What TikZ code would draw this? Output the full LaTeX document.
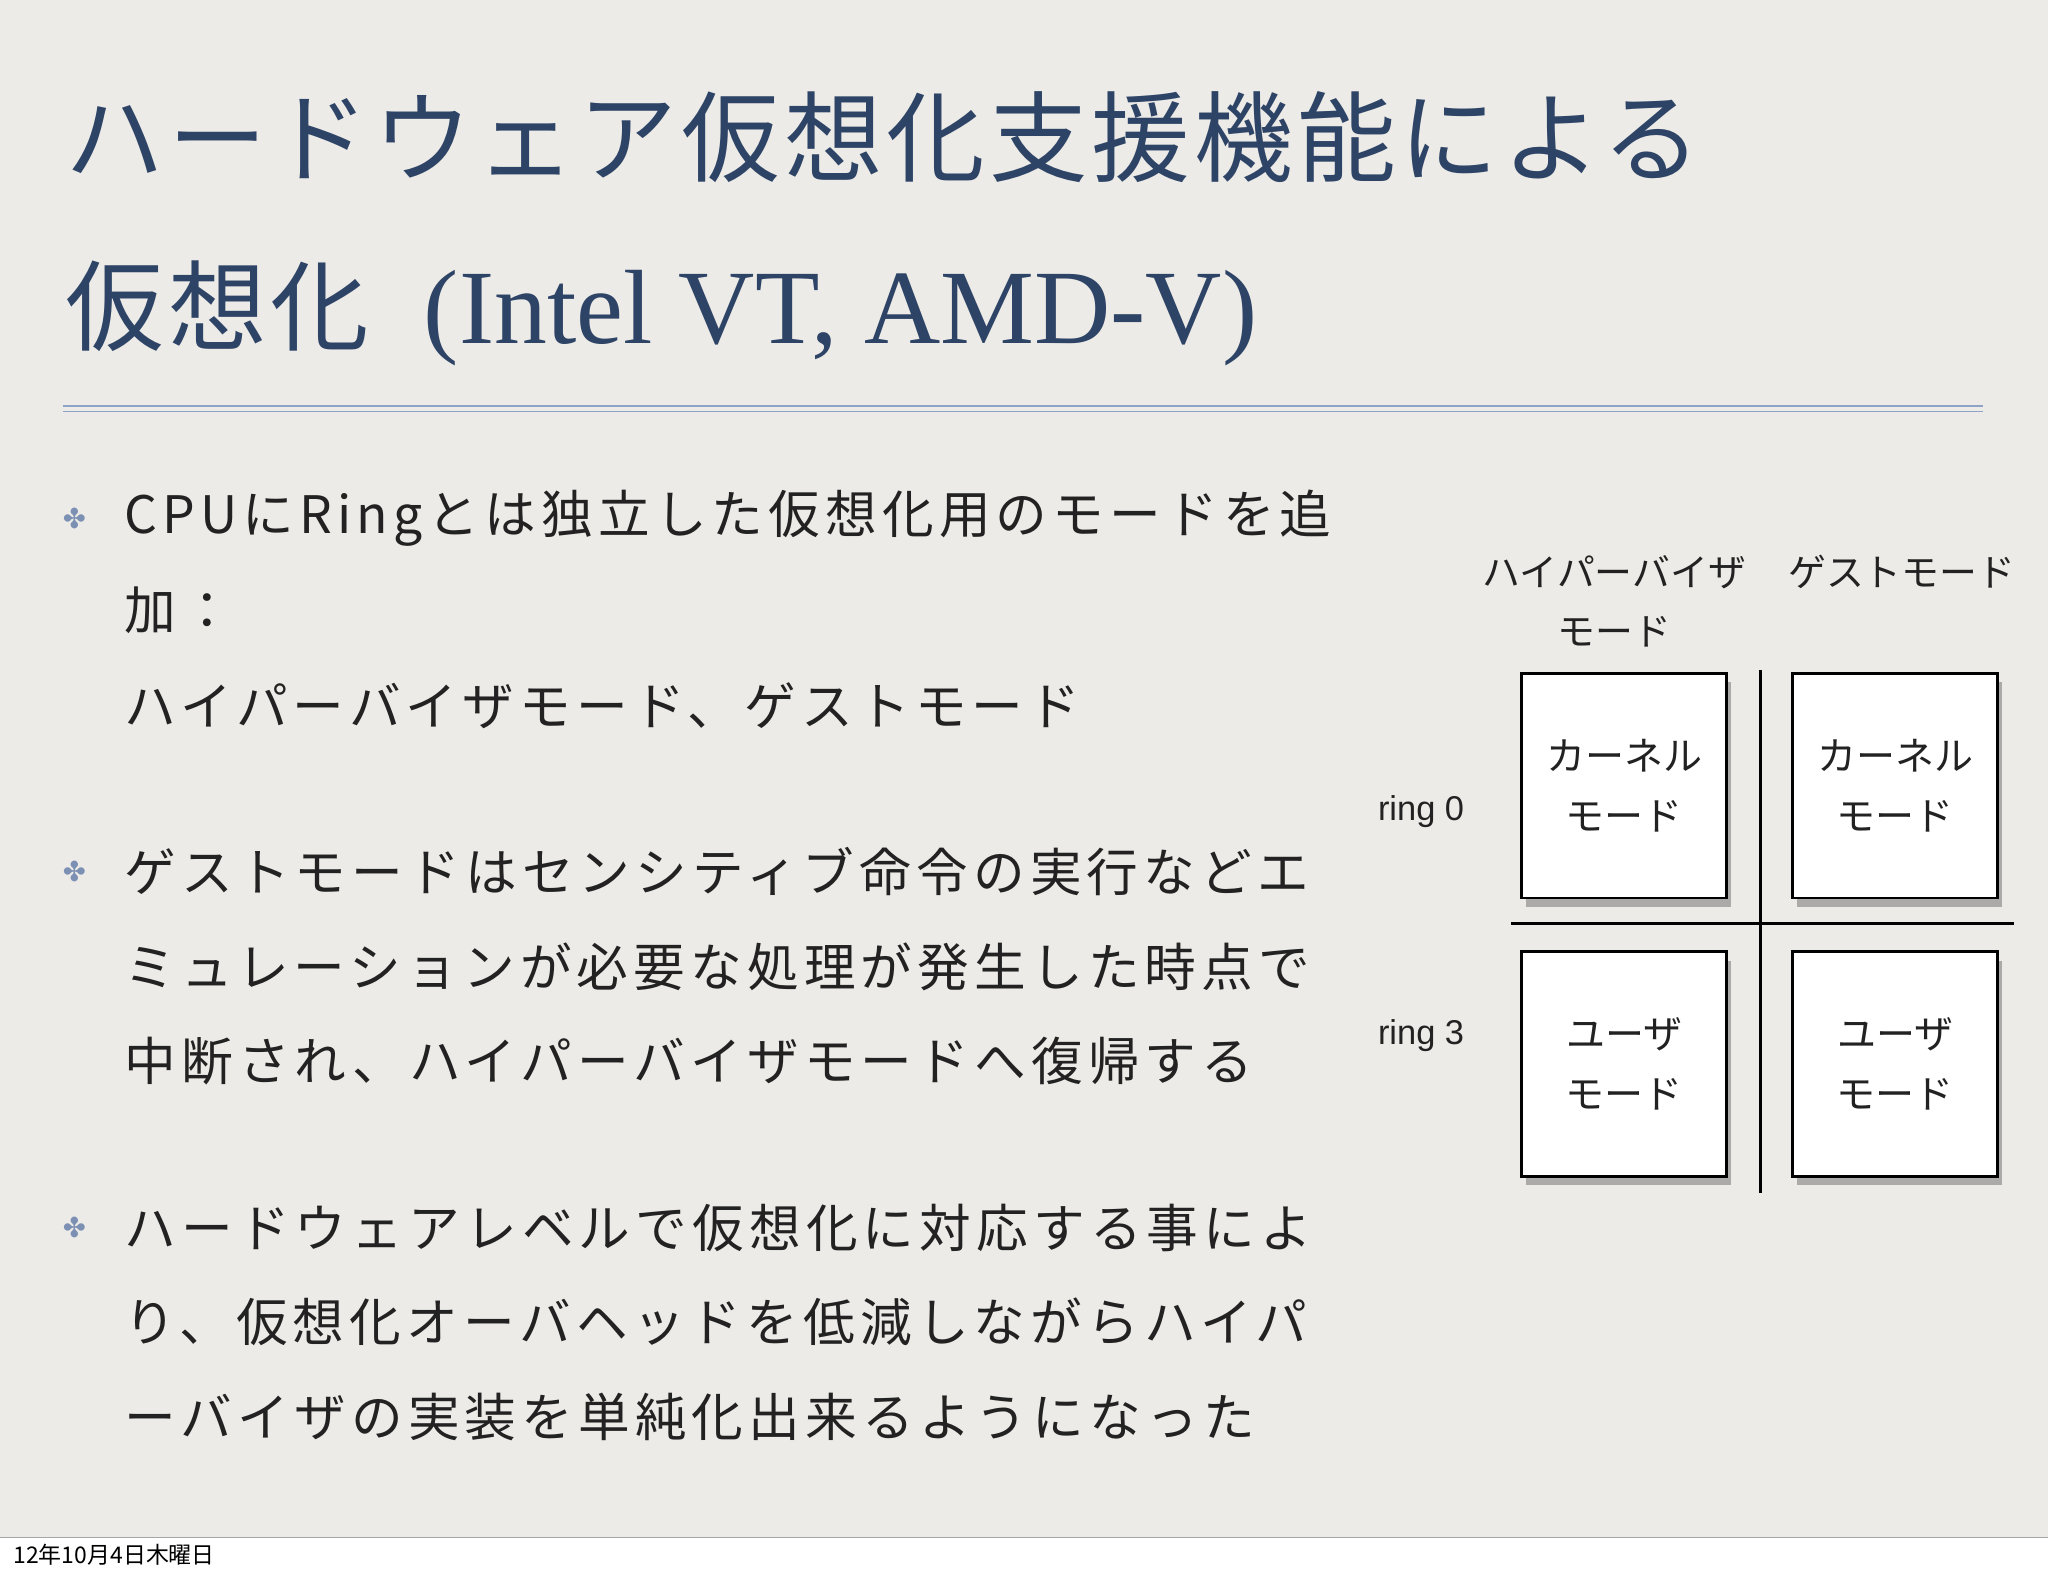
\documentclass[tikz,border=0pt]{standalone}
\usepackage{fontspec}
\setmainfont{Liberation Serif}
\newfontfamily\jp{Noto Sans CJK JP}
\newfontfamily\jpw[LetterSpace=10]{Noto Sans CJK JP}
\newfontfamily\jpt[LetterSpace=4]{Noto Sans CJK JP}
\newfontfamily\sym{DejaVu Sans}
\newfontfamily\lsans{Liberation Sans}
\usetikzlibrary{shadows}
\definecolor{paper}{HTML}{EDEBE7}
\definecolor{navy}{HTML}{2E4466}
\definecolor{ink}{HTML}{222222}
\definecolor{rule}{HTML}{8FA3C8}
\begin{document}
\begin{tikzpicture}[x=0.02cm,y=-0.02cm,
  body/.style={anchor=west,inner sep=0,text=ink,font=\jpw\fontsize{22.5}{26}\selectfont},
  bul/.style={anchor=center,inner sep=0,text=rule!80!navy,font=\sym\fontsize{12}{14}\selectfont},
  lab/.style={inner sep=0,text=ink,font=\jp\fontsize{16.5}{19}\selectfont},
  modebox/.style={draw=black,line width=1.2pt,fill=white,minimum width=157*0.02cm,minimum height=172*0.02cm,inner sep=0,drop shadow={shadow xshift=2pt,shadow yshift=-4pt,opacity=0.6},align=center,font=\jp\fontsize{17}{26}\selectfont,text=ink}]
\useasboundingbox (0,0) rectangle (1568,1207);
\fill[paper] (0,0) rectangle (1568,1177);
\fill[white] (0,1177) rectangle (1568,1207);
\draw[gray!70,line width=0.4pt] (0,1177) -- (1568,1177);
\node[anchor=west,inner sep=0] (date) at (10,1190) {\jp\fontsize{10}{11}\selectfont 12年10月4日木曜日};
% title
\node[anchor=west,inner sep=0,text=navy] (t1) at (50,105) {\jpt\fontsize{43}{48}\selectfont ハードウェア仮想化支援機能による};
\node[anchor=west,inner sep=0,text=navy] (t2) at (50,240) {\jpt\fontsize{43}{48}\selectfont 仮想化\hspace{0.55em}\rmfamily\fontsize{46}{50}\selectfont(Intel VT, AMD-V)};
\coordinate (r1a) at (48,311); \coordinate (r1b) at (1518,311);
\coordinate (r2a) at (48,315); \coordinate (r2b) at (1518,315);
\draw[rule,line width=0.8pt] (r1a) -- (r1b);
\draw[rule,line width=0.8pt] (r2a) -- (r2b);
% bullets
\node[bul] (b1) at (57,397) {✤};
\node[bul] (b2) at (57,667) {✤};
\node[bul] (b3) at (57,940) {✤};
\node[body] (l1) at (95,397) {CPUにRingとは独立した仮想化用のモードを追};
\node[body] (l2) at (95,467) {加：};
\node[body] (l3) at (95,540) {ハイパーバイザモード、ゲストモード};
\node[body] (l4) at (95,667) {ゲストモードはセンシティブ命令の実行などエ};
\node[body] (l5) at (95,740) {ミュレーションが必要な処理が発生した時点で};
\node[body] (l6) at (95,812) {中断され、ハイパーバイザモードへ復帰する};
\node[body] (l7) at (95,940) {ハードウェアレベルで仮想化に対応する事によ};
\node[body] (l8) at (95,1012) {り、仮想化オーバヘッドを低減しながらハイパ};
\node[body] (l9) at (95,1085) {ーバイザの実装を単純化出来るようになった};
% diagram
\node[lab] (h1) at (1236,438) {ハイパーバイザ};
\node[lab] (h2) at (1236,484) {モード};
\node[lab] (g1) at (1456,438) {ゲストモード};
\node[lab,font=\lsans\fontsize{15}{18}\selectfont] (r0) at (1088,621) {ring 0};
\node[lab,font=\lsans\fontsize{15}{18}\selectfont] (r3) at (1088,793) {ring 3};
\node[modebox] (k1) at (1243.5,601.5) {カーネル\\モード};
\node[modebox] (k2) at (1451,601.5) {カーネル\\モード};
\node[modebox] (u1) at (1243.5,814.5) {ユーザ\\モード};
\node[modebox] (u2) at (1451,814.5) {ユーザ\\モード};
\coordinate (va) at (1348,513); \coordinate (vb) at (1348,913);
\coordinate (ha) at (1157,707); \coordinate (hb) at (1542,707);
\draw[line width=1.5pt] (va) -- (vb);
\draw[line width=1.5pt] (ha) -- (hb);
\end{tikzpicture}
\end{document}
